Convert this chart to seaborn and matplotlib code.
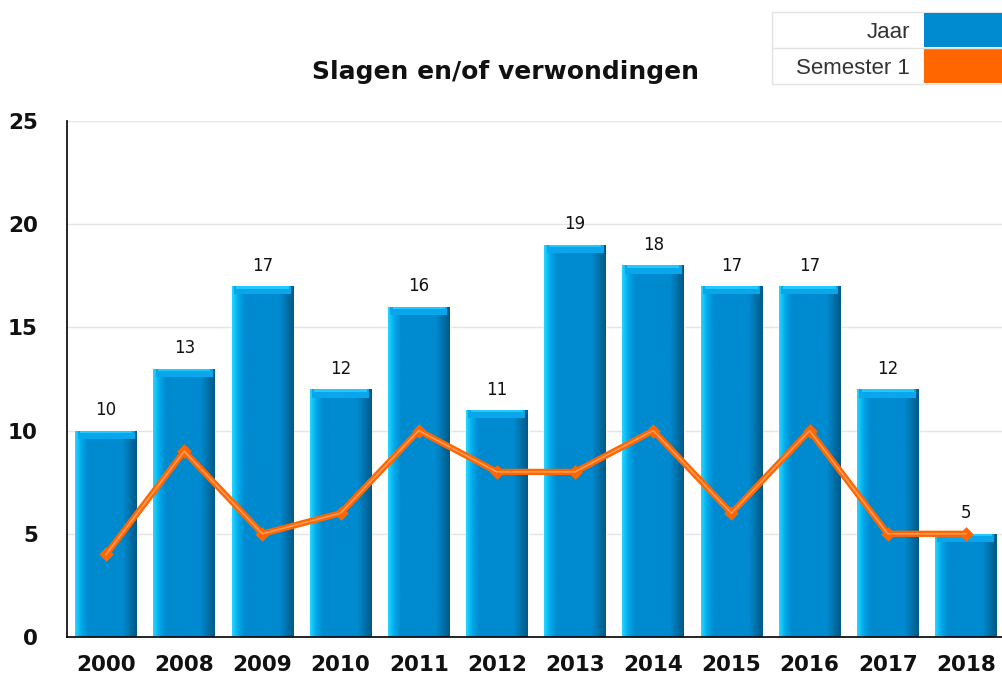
import matplotlib
matplotlib.use("Agg")
import matplotlib.pyplot as plt
import seaborn as sns
import numpy as np
from matplotlib.patches import Rectangle
from matplotlib.colors import LinearSegmentedColormap

# gegevens
jaren = ["2000", "2008", "2009", "2010", "2011", "2012", "2013", "2014", "2015", "2016", "2017", "2018"]
jaar = [10, 13, 17, 12, 16, 11, 19, 18, 17, 17, 12, 5]
semester1 = [4, 9, 5, 6, 10, 8, 8, 10, 6, 10, 5, 5]

blauw = "#008ACF"
oranje = "#FF6600"

sns.set_style("white")
plt.rcParams["font.family"] = ["DejaVu Sans"]

W, H = 1002, 674
fig = plt.figure(figsize=(W / 100, H / 100), dpi=100)
# as loopt net voorbij de rechterrand van de figuur
ax = fig.add_axes([67 / W, 1 - 637 / H, 938 / W, (637 - 121) / H])

sns.barplot(x=jaren, y=jaar, color=blauw, width=0.79, saturation=1, ax=ax, zorder=2)

# verloop op de balken (licht links, donker rechts)
grad = np.linspace(0, 1, 64).reshape(1, -1)
cmap = LinearSegmentedColormap.from_list(
    "bar", [(0, "#22D4FF"), (0.1, "#00A8EA"), (0.2, blauw), (0.78, blauw), (1, "#005A88")])
for p, v in zip(ax.patches, jaar):
    x0 = p.get_x()
    w = p.get_width()
    im = ax.imshow(grad, extent=[x0, x0 + w, 0, v], aspect="auto", cmap=cmap, zorder=2.1)
    im.set_clip_path(p)
    ax.add_patch(Rectangle((x0 + 0.03, v - 0.4), w - 0.06, 0.4, color="#0AA6EC", zorder=2.2, lw=0))
    ax.add_patch(Rectangle((x0 + 0.06, v - 0.12), w - 0.12, 0.12, color="#22C8FF", zorder=2.3, lw=0))
    ax.text(x0 + w / 2, v + 0.55, str(v), ha="center", va="bottom", fontsize=12, color="#111111")

sns.pointplot(x=jaren, y=semester1, color=oranje, ax=ax, markers="D", markersize=4,
              linewidth=4.5, zorder=5)
ax.plot(range(len(jaren)), semester1, color="#FF9A5C", lw=1.2, zorder=6)

ax.set_xlim(-0.49, len(jaren) - 0.5)
ax.set_ylim(0, 25)
ax.set_yticks([0, 5, 10, 15, 20, 25])
ax.yaxis.grid(True, color="#e5e5e5", lw=1, zorder=0)
ax.set_axisbelow(True)
for s in ["top", "right"]:
    ax.spines[s].set_visible(False)
ax.spines["left"].set_color("black")
ax.spines["bottom"].set_color("black")
ax.spines["left"].set_linewidth(1.2)
ax.spines["bottom"].set_linewidth(1.2)
ax.set_xticks(np.arange(len(jaren)) - 0.5, minor=True)
ax.tick_params(axis="x", which="major", length=0, pad=13, labelsize=15.5, labelcolor="#111111")
ax.tick_params(axis="x", which="minor", length=7, width=1.2, direction="out", color="black")
ax.tick_params(axis="y", length=11, width=1.2, direction="out", color="black", labelsize=15.5,
               pad=10, labelcolor="#111111")
for lbl in ax.get_xticklabels() + ax.get_yticklabels():
    lbl.set_fontweight("bold")
ax.set_xlabel("")
ax.set_ylabel("")

fig.text(505 / W, 1 - 72 / H, "Slagen en/of verwondingen", ha="center", va="center",
         fontsize=18, fontweight="bold", color="#111111")

# legende als tabel
def rect(x0, y0, x1, y1, fc, ec="none"):
    fig.patches.append(Rectangle((x0 / W, 1 - y1 / H), (x1 - x0) / W, (y1 - y0) / H,
                                 transform=fig.transFigure, facecolor=fc, edgecolor=ec, lw=1))
rect(772, 12, 1001, 84, "white", "#e3e3e3")
fig.lines.append(plt.Line2D([772 / W, 1001 / W], [1 - 48 / H, 1 - 48 / H],
                            transform=fig.transFigure, color="#e3e3e3", lw=1))
rect(924, 13, 1002, 47, blauw)
rect(924, 49, 1002, 83, oranje)
fig.text(910 / W, 1 - 32 / H, "Jaar", ha="right", va="center", fontsize=16,
         family=["Liberation Sans", "DejaVu Sans"], color="#333333")
fig.text(910 / W, 1 - 68 / H, "Semester 1", ha="right", va="center", fontsize=16,
         family=["Liberation Sans", "DejaVu Sans"], color="#333333")

fig.savefig("out.png", dpi=100)
